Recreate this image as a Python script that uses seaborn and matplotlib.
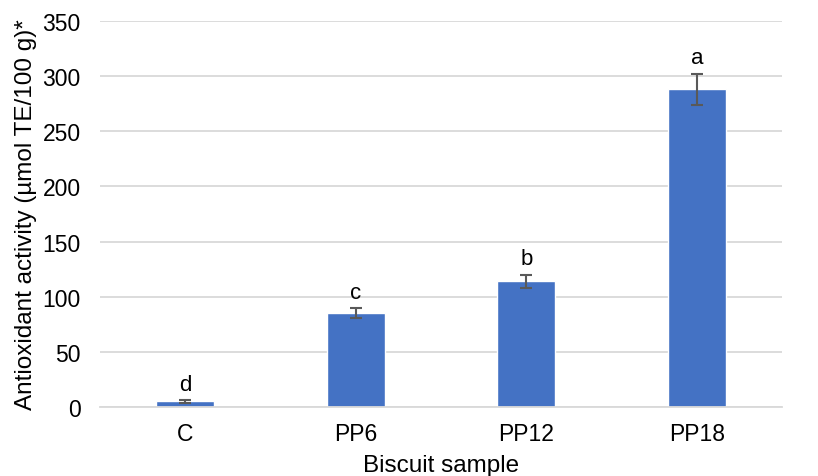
import pandas as pd
import seaborn as sns
import matplotlib.pyplot as plt

# Biscuit antioxidant activity
samples = ["C", "PP6", "PP12", "PP18"]
activity = [5, 85, 114, 288]
errors = [1, 4.5, 6, 14]
letters = ["d", "c", "b", "a"]

sns.set_theme(style="whitegrid")
plt.rcParams['font.family'] = ['Liberation Sans', 'DejaVu Sans']

df = pd.DataFrame({"sample": samples, "activity": activity})

fig = plt.figure(figsize=(8.18, 4.77), dpi=100)
ax = fig.add_axes([100 / 818, 1 - 408 / 477, 682 / 818, 386 / 477])

sns.barplot(data=df, x="sample", y="activity", color="#4472C4",
            width=0.34, saturation=1, errorbar=None, ax=ax, zorder=2)

# error bars and significance letters
ax.errorbar(range(len(samples)), activity, yerr=errors, fmt="none",
            ecolor="#595959", elinewidth=1.5, capsize=4.5, capthick=1.5, zorder=3)
for i, (v, e, lab) in enumerate(zip(activity, errors, letters)):
    ax.text(i, v + e + 5, lab, ha="center", va="bottom", fontsize=16,
            color="black")

ax.set_ylim(0, 350)
ax.set_yticks(range(0, 351, 50))
ax.set_xlim(-0.5, 3.5)

ax.set_facecolor("white")
ax.grid(axis="y", color="#D9D9D9", linewidth=1.3)
ax.grid(axis="x", visible=False)
for side in ["left", "right", "top"]:
    ax.spines[side].set_visible(False)
ax.spines["bottom"].set_color("#D9D9D9")
ax.spines["bottom"].set_linewidth(1.3)

ax.tick_params(axis="both", length=0, labelsize=16.5, labelcolor="black")
ax.tick_params(axis="y", pad=14)
ax.tick_params(axis="x", pad=11)

ax.set_xlabel("Biscuit sample", fontsize=17.5, labelpad=6, color="black")
ax.set_ylabel("Antioxidant activity (µmol TE/100 g)*", fontsize=17.5,
              labelpad=4, color="black")

fig.savefig("out.png", dpi=100)
